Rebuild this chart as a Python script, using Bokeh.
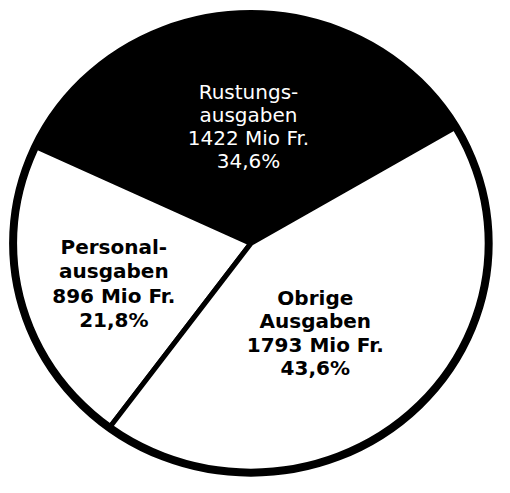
import numpy as np
from bokeh.plotting import figure
from bokeh.models import Range1d, ColumnDataSource
from bokeh.core.properties import value
from bokeh.embed import file_html
from bokeh.resources import INLINE

# ---- data ----
categories = ["Rustungsausgaben", "Personalausgaben", "Obrige Ausgaben"]
name_line1 = ["Rustungs-", "Personal-", "Obrige"]
name_line2 = ["ausgaben", "ausgaben", "Ausgaben"]
values_mio_fr = [1422, 896, 1793]

# ---- styles / layout (reference pixel coordinates) ----
fill_colors = ["#000000", "#ffffff", "#ffffff"]
text_colors = ["#ffffff", "#000000", "#000000"]
text_styles = ["normal", "bold", "bold"]
text_sizes = ["20px", "20px", "20px"]
CX, CY, RX, RY = 258.5, 251.0, 245.5, 237.0
START_DEG = 30.5
label_x = [256, 117, 325]
label_y0 = [95, 255, 307]
line_step = [23.7, 25.0, 24.3]

total = sum(values_mio_fr)
fracs = [v / total for v in values_mio_fr]
pct_labels = [f"{100 * f:.1f}".replace(".", ",") + "%" for f in fracs]
value_labels = [f"{v} Mio Fr." for v in values_mio_fr]

xs, ys = [], []
a0 = np.deg2rad(START_DEG)
for f in fracs:
    a1 = a0 + 2 * np.pi * f
    t = np.linspace(a0, a1, 240)
    xs.append([CX] + list(CX + RX * np.cos(t)))
    ys.append([CY] + list(CY - RY * np.sin(t)))
    a0 = a1

p = figure(width=494, height=477, output_backend="svg", toolbar_location=None,
           x_range=Range1d(0, 510), y_range=Range1d(493, 0),
           x_axis_type=None, y_axis_type=None, min_border=0)
p.outline_line_color = None
p.grid.visible = False
p.background_fill_color = "white"
p.border_fill_color = "white"

p.patches(xs, ys, fill_color=fill_colors, line_color="black",
          line_width=5, line_join="round")
p.ellipse(x=CX, y=CY, width=2 * RX, height=2 * RY, fill_color=None,
          line_color="black", line_width=8)

for i in range(len(categories)):
    lines = [name_line1[i], name_line2[i], value_labels[i], pct_labels[i]]
    src = ColumnDataSource(dict(
        x=[label_x[i]] * 4,
        y=[label_y0[i] + k * line_step[i] for k in range(4)],
        text=lines,
    ))
    p.text(x="x", y="y", text="text", source=src,
           text_font=value("DejaVu Sans"), text_font_size=text_sizes[i],
           text_font_style=text_styles[i], text_color=text_colors[i],
           text_align="center", text_baseline="alphabetic")

open("out.html", "w").write(file_html(p, INLINE))
